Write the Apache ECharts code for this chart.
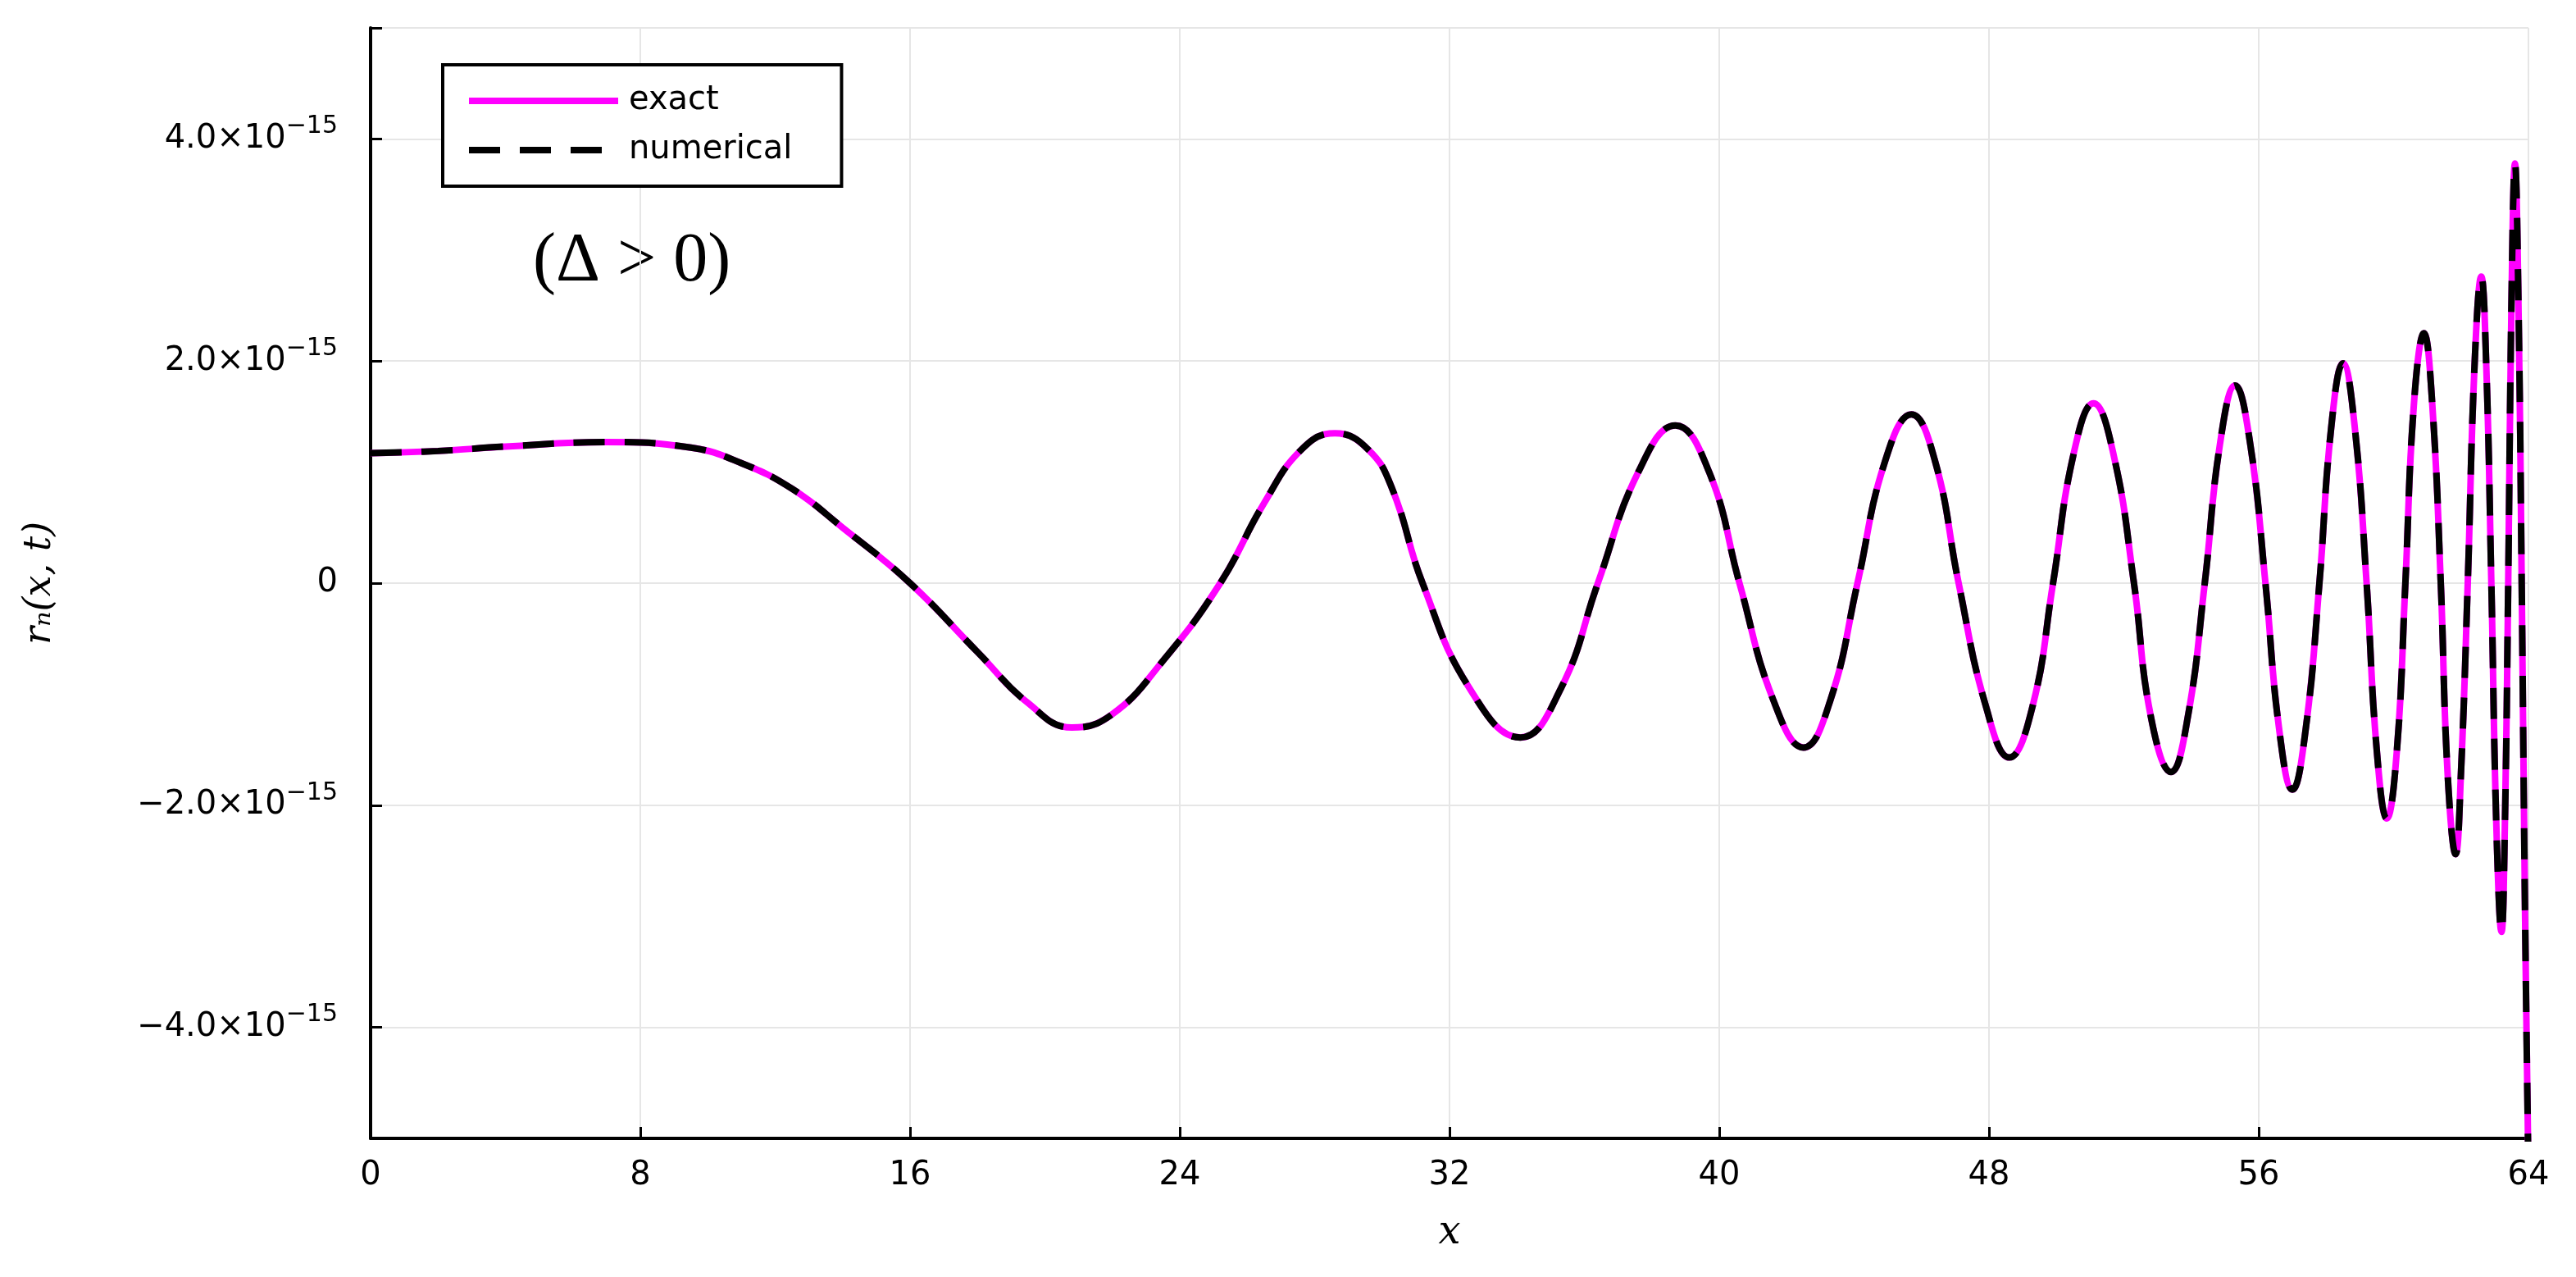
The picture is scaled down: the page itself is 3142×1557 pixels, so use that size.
<!DOCTYPE html>
<html>
<head>
<meta charset="utf-8">
<script src="https://cdn.jsdelivr.net/npm/echarts@6/dist/echarts.min.js"></script>
<style>
  html, body { margin: 0; padding: 0; background: #fff; }
  #chart { width: 3142px; height: 1557px; }
</style>
</head>
<body>
<div id="chart"></div>
<script>
// x positions, values in units of 1e-15
const xs = [0, 2, 4, 7, 9.5, 11, 12.5, 14, 16, 18, 19.5, 20.8, 22, 23.5, 25.2, 26.5, 27.6, 28.6, 29.6, 30.3, 31.2, 32.6, 34.1, 35.3, 36.4, 37.6, 38.7,
  39.7, 40.6, 41.6, 42.5, 43.3, 44.1, 44.9, 45.7, 46.4, 47.1, 47.9, 48.6, 49.3, 49.9, 50.5, 51.1, 51.7, 52.3, 52.8,
  53.4, 53.9, 54.4, 54.85, 55.3, 55.75, 56.2, 56.6, 57.0, 57.4, 57.8, 58.15, 58.5, 58.85, 59.2, 59.5, 59.8, 60.1,
  60.35, 60.6, 60.9, 61.15, 61.4, 61.6, 61.84, 62.0, 62.2, 62.4, 62.6, 62.75, 62.9, 63.05, 63.2, 63.3, 63.4, 63.5,
  63.6, 63.7, 63.8, 63.9, 64];
const ys = [1.17, 1.19, 1.23, 1.27, 1.22, 1.08, 0.85, 0.5, 0.0, -0.62, -1.08, -1.3, -1.18, -0.7, 0.0, 0.72, 1.2, 1.35, 1.2, 0.85, 0.0, -0.95, -1.39, -0.95, 0.0, 1.0, 1.42,
  1.0, 0.0, -1.05, -1.48, -1.05, 0.0, 1.08, 1.52, 1.1, 0.0, -1.1, -1.57, -1.1, 0.0, 1.15, 1.62, 1.15, 0.0, -1.2,
  -1.7, -1.2, 0.0, 1.25, 1.78, 1.25, 0.0, -1.3, -1.86, -1.3, 0.0, 1.4, 1.98, 1.4, 0.0, -1.5, -2.12, -1.5,
  0.0, 1.6, 2.25, 1.6, 0.0, -1.7, -2.44, -1.7, 0.0, 1.95, 2.76, 1.95, 0.0, -2.2, -3.14, -2.2, 0.0, 2.6,
  3.78, 2.6, 0.0, -3.0, -5.3];
const seriesNames = ['exact', 'numerical'];
const xTicks = [0, 8, 16, 24, 32, 40, 48, 56, 64];

const points = xs.map((x, i) => [x, ys[i]]);

const chart = echarts.init(document.getElementById('chart'));
const font = 'DejaVu Sans';

chart.setOption({
  backgroundColor: '#fff',
  animation: false,
  grid: { left: 452, right: 58, top: 34, bottom: 169 },
  legend: {
    left: 540, top: 79,
    orient: 'vertical',
    padding: [24, 60, 24, 28],
    itemGap: 20,
    itemWidth: 182, itemHeight: 24,
    borderColor: '#000', borderWidth: 4,
    backgroundColor: '#fff',
    itemStyle: { opacity: 0 },
    lineStyle: { width: 8 },
    textStyle: { fontFamily: font, fontSize: 40, color: '#000', padding: [0, 0, 0, 8] },
    data: seriesNames
  },
  xAxis: {
    type: 'value', min: 0, max: 64, interval: 8,
    name: 'x', nameLocation: 'middle', nameGap: 92,
    nameTextStyle: { fontFamily: 'DejaVu Serif', fontStyle: 'italic', fontSize: 48, color: '#000' },
    axisLine: { onZero: false, lineStyle: { color: '#000', width: 4 } },
    axisTick: { inside: true, length: 14, lineStyle: { color: '#000', width: 3 } },
    axisLabel: { fontFamily: font, fontSize: 40, color: '#000', margin: 26,
      formatter: v => xTicks.includes(v) ? String(v) : '' },
    splitLine: { lineStyle: { color: '#e6e6e6', width: 2 } }
  },
  yAxis: {
    type: 'value', min: -5, max: 5, splitNumber: 5,
    name: 'r\u2099(x, t)', nameLocation: 'middle', nameGap: 380,
    nameTextStyle: { fontFamily: 'DejaVu Serif', fontStyle: 'italic', fontSize: 46, color: '#000' },
    axisLine: { onZero: false, lineStyle: { color: '#000', width: 4 } },
    axisTick: { inside: true, length: 14, lineStyle: { color: '#000', width: 3 } },
    axisLabel: {
      margin: 40,
      formatter: v => {
        if (Math.abs(v) > 4.5) return '';
        if (v === 0) return '{b|0}';
        return '{b|' + (v < 0 ? '\u2212' : '') + Math.abs(v).toFixed(1) + '\u00d710}{s|\u221215}';
      },
      rich: {
        b: { fontFamily: font, fontSize: 40, color: '#000' },
        s: { fontFamily: font, fontSize: 30, color: '#000', padding: [0, 0, 30, 0] }
      }
    },
    splitLine: { lineStyle: { color: '#e6e6e6', width: 2 } }
  },
  graphic: [{
    type: 'text', left: 650, top: 278,
    style: { text: '(\u0394 > 0)', fontFamily: 'Liberation Serif', fontSize: 84, fill: '#000' }
  }],
  series: [{
    name: seriesNames[0], type: 'line', data: points, smooth: 0.45, symbol: 'none', clip: true,
    itemStyle: { color: '#ff00ff' },
    lineStyle: { color: '#ff00ff', width: 8 }
  }, {
    name: seriesNames[1], type: 'line', data: points, smooth: 0.45, symbol: 'none', clip: true,
    itemStyle: { color: '#000' },
    lineStyle: { color: '#000', width: 8, type: [38, 24] }
  }]
});
</script>
</body>
</html>
